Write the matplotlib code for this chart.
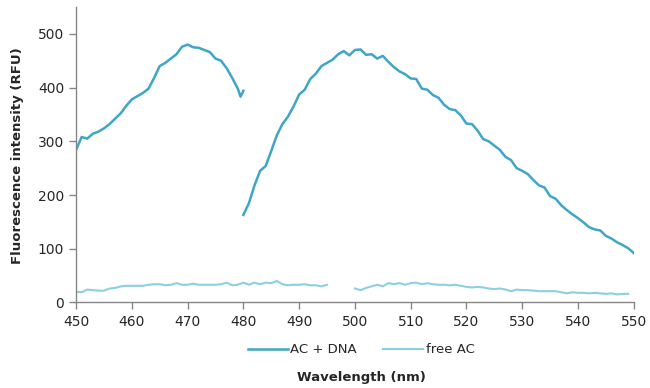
import numpy as np
import matplotlib
matplotlib.use("Agg")
import matplotlib.pyplot as plt

# AC + DNA, excitation part (450-480 nm)
wl_dna_a = [450, 451, 452, 453, 454, 455, 456, 457, 458, 459, 460, 461, 462, 463,
            464, 465, 466, 467, 468, 469, 470, 471, 472, 473, 474, 475, 476, 477,
            478, 479, 479.5, 480]
rfu_dna_a = [284, 308, 305, 314, 318, 324, 332, 342, 352, 366, 378, 384, 390, 398,
             418, 440, 446, 454, 462, 476, 480, 475, 474, 470, 466, 454, 450, 436,
             418, 398, 383, 394]

# AC + DNA, emission part (480-550 nm)
wl_dna_b = list(range(480, 551))
rfu_dna_b = [163, 185, 218, 245, 254, 282, 311, 332, 346, 365,
             387, 396, 416, 426, 440, 446, 452, 462, 468, 460,
             470, 471, 461, 462, 454, 459, 448, 438, 430, 425,
             417, 416, 398, 396, 386, 381, 368, 360, 358, 348,
             333, 332, 320, 304, 300, 292, 284, 271, 265, 250,
             245, 239, 228, 218, 214, 198, 193, 181, 172, 164,
             157, 149, 140, 136, 134, 124, 119, 112, 107, 101,
             92]

# free AC
wl_free_a = list(range(450, 496))
rfu_free_a = [20, 19, 24, 23, 22, 22, 26, 27, 30, 31,
              31, 31, 31, 33, 34, 34, 32, 33, 36, 33,
              33, 35, 33, 33, 33, 33, 34, 37, 32, 33,
              37, 33, 37, 34, 37, 36, 40, 34, 32, 33,
              33, 34, 32, 32, 30, 33]
wl_free_b = list(range(500, 550))
rfu_free_b = [26, 23, 27, 30, 33, 30, 36, 34, 36, 33,
              36, 37, 34, 36, 34, 33, 33, 32, 33, 31,
              29, 28, 29, 28, 26, 25, 26, 24, 21, 24,
              23, 23, 22, 21, 21, 21, 21, 19, 17, 19,
              18, 18, 17, 18, 17, 16, 17, 15, 16, 16]

c_dna = "#3ea6c6"
c_free = "#8dcfe2"
grey = "#868686"
txt = "#262626"

fig = plt.figure(figsize=(6.5, 3.88), dpi=100)
ax = fig.add_axes([0.117, 0.2204, 0.858, 0.7616])

ax.plot(wl_dna_a, rfu_dna_a, color=c_dna, lw=1.8, label="AC + DNA")
ax.plot(wl_dna_b, rfu_dna_b, color=c_dna, lw=1.8)
ax.plot(wl_free_a, rfu_free_a, color=c_free, lw=1.5, label="free AC")
ax.plot(wl_free_b, rfu_free_b, color=c_free, lw=1.5)

ax.set_xlim(450, 550)
ax.set_ylim(0, 550)
ax.set_xticks(np.arange(450, 551, 10))
ax.set_yticks(np.arange(0, 501, 100))

for s in ["top", "right"]:
    ax.spines[s].set_visible(False)
for s in ["left", "bottom"]:
    ax.spines[s].set_color(grey)
    ax.spines[s].set_linewidth(1.0)
ax.tick_params(axis="both", direction="out", length=5, width=1.0, color=grey,
               labelsize=10, labelcolor=txt)
ax.tick_params(axis="x", pad=4)

fig.text(0.027, 0.6, "Fluorescence intensity (RFU)", rotation=90, ha="center",
         va="center", fontsize=9.5, fontweight="bold", color=txt)
fig.text(0.556, 0.028, "Wavelength (nm)", ha="center", va="center",
         fontsize=9.5, fontweight="bold", color=txt)

fig.legend(loc="center", bbox_to_anchor=(0.556, 0.098), ncol=2, frameon=False,
           fontsize=9.5, handlelength=3.0, handletextpad=0.2, columnspacing=2.0,
           labelcolor=txt)

fig.savefig("out.png", dpi=100)
